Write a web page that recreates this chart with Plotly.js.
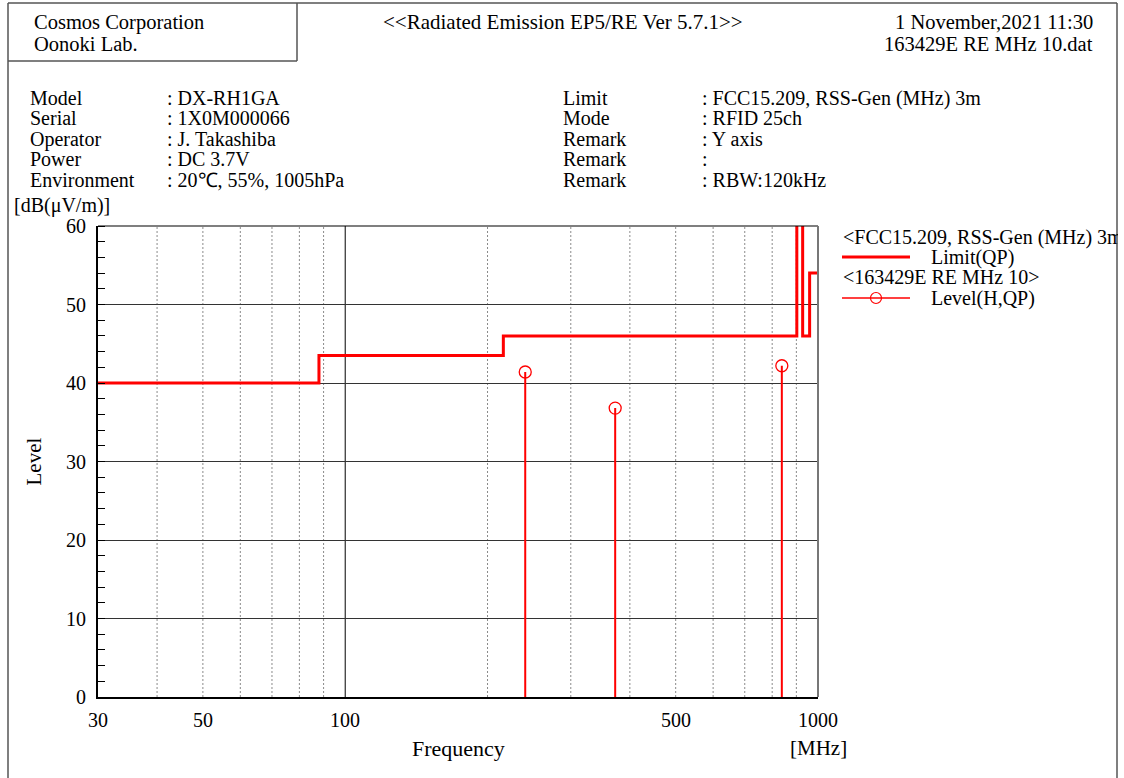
<!DOCTYPE html>
<html><head><meta charset="utf-8">
<script src="https://cdn.plot.ly/plotly-3.0.1.min.js"></script>
<style>
html,body{margin:0;padding:0;background:#fff;overflow:hidden}
</style>
</head><body><div id="chart" style="width:1118px;height:778px"></div>
<script>
// ---- data ----
const limitFreq = [30, 88, 216, 902, 928, 960, 1000];
const limitLevel = [40, 43.5, 46, 94, 46, 54, 54];
const peakFreq = [240.3, 372.4, 838.5];
const peakLevel = [41.4, 36.8, 42.2];
const xTickVals = [30, 50, 100, 500, 1000];
const xTickText = ['30', '50', '100', '500', '1000'];
const xMinorGrid = [40, 50, 60, 70, 80, 90, 200, 300, 400, 500, 600, 700, 800, 900];
const xMajorGrid = [100];
const yTickVals = [0, 10, 20, 30, 40, 50, 60];
const yTickText = ['0', '10', '20', '30', '40', '50', '60'];
const xTitle = 'Frequency';
const yTitle = 'Level';
const xUnit = '[MHz]';
const yUnit = '[dB(μV/m)]';
const infoLeftLabels = ['Model', 'Serial', 'Operator', 'Power', 'Environment'];
const infoLeftValues = [': DX-RH1GA', ': 1X0M000066', ': J. Takashiba', ': DC 3.7V', ': 20℃, 55%, 1005hPa'];
const infoRightLabels = ['Limit', 'Mode', 'Remark', 'Remark', 'Remark'];
const infoRightValues = [': FCC15.209, RSS-Gen (MHz) 3m', ': RFID 25ch', ': Y axis', ':', ': RBW:120kHz'];
const headerLeft = ['Cosmos Corporation', 'Oonoki Lab.'];
const headerCenter = '<<Radiated Emission EP5/RE Ver 5.7.1>>';
const headerRight = ['1 November,2021 11:30', '163429E RE MHz 10.dat'];
const legendLimitGroup = '<FCC15.209, RSS-Gen (MHz) 3m';
const legendLimitName = 'Limit(QP)';
const legendLevelGroup = '<163429E RE MHz 10>';
const legendLevelName = 'Level(H,QP)';

// ---- layout helpers ----
const FONT = 'Liberation Serif';
const W = 1118, H = 778, L = 98, R = 818, T = 226, B = 697;
const px = x => (x - L) / (R - L);
const py = y => (B - y) / (B - T);
const RED = '#ff0000';

function ann(text, x, y, xanchor, size) {
  return {text: text, xref: 'paper', yref: 'paper', x: px(x), y: py(y),
    xanchor: xanchor || 'left', yanchor: 'middle', showarrow: false, borderpad: 0,
    font: {family: FONT, size: size || 20, color: '#000'}};
}
function pline(x0, y0, x1, y1, color, width) {
  return {type: 'line', xref: 'paper', yref: 'paper', x0: px(x0), y0: py(y0), x1: px(x1), y1: py(y1),
    line: {color: color, width: width}, layer: 'above'};
}

const annotations = [];
headerLeft.forEach((t, i) => annotations.push(ann(t, 33, 22 + i * 21.5, 'left', 20.5)));
annotations.push(ann(headerCenter, 382, 22, 'left', 21));
headerRight.forEach((t, i) => annotations.push(ann(t, 1094, 22 + i * 21.5, 'right', 20.5)));
infoLeftLabels.forEach((t, i) => {
  annotations.push(ann(t, 29, 98 + i * 20.5));
  annotations.push(ann(infoLeftValues[i], 166, 98 + i * 20.5));
});
infoRightLabels.forEach((t, i) => {
  annotations.push(ann(t, 562, 98 + i * 20.5));
  annotations.push(ann(infoRightValues[i], 701, 98 + i * 20.5));
});
annotations.push(ann(yUnit, 13, 205, 'left', 20));
annotations.push(ann(xUnit, 818, 748, 'center', 21));
annotations.push(ann(xTitle, 458, 748, 'center', 22));
annotations.push(Object.assign(ann(yTitle, 33, 461.5, 'center', 21), {textangle: -90}));
// axis tick labels placed through the axes' own scales
xTickVals.forEach((v, i) => annotations.push({text: xTickText[i], xref: 'x', yref: 'paper',
  x: Math.log10(v), y: py(720), xanchor: 'center', yanchor: 'middle', showarrow: false, borderpad: 0,
  font: {family: FONT, size: 20, color: '#000'}}));
yTickVals.forEach((v, i) => annotations.push({text: yTickText[i], xref: 'paper', yref: 'y',
  x: px(87), y: v, xanchor: 'right', yanchor: 'middle', showarrow: false, borderpad: 0,
  font: {family: FONT, size: 20, color: '#000'}}));
annotations.push(ann(legendLimitGroup, 842, 237));
annotations.push(ann(legendLimitName, 930, 257));
annotations.push(ann(legendLevelGroup, 842, 277));
annotations.push(ann(legendLevelName, 930, 298));

const shapes = [];
xMinorGrid.forEach(v => shapes.push({type: 'line', xref: 'x', yref: 'paper', x0: v, x1: v, y0: 0, y1: 1,
  line: {color: '#8a8a8a', width: 1, dash: '2px,2px'}, layer: 'below'}));
xMajorGrid.forEach(v => shapes.push({type: 'line', xref: 'x', yref: 'paper', x0: v, x1: v, y0: 0, y1: 1,
  line: {color: '#000', width: 1}, layer: 'below'}));
shapes.push(pline(L, T, R, T, '#000', 1.2));
shapes.push(pline(R, T, R, B, '#777', 2));
shapes.push(pline(8, 3, 1117, 3, '#555', 1.5));
shapes.push(pline(8, 3, 8, 790, '#555', 1.5));
shapes.push(pline(1117, 3, 1117, 790, '#555', 1.5));
shapes.push(pline(297, 3, 297, 61, '#555', 1.5));
shapes.push(pline(8, 61, 297, 61, '#555', 1.5));
shapes.push(pline(842, 257, 910, 257, RED, 3));
shapes.push(pline(842, 298, 910, 298, RED, 1.5));
shapes.push({type: 'circle', xref: 'paper', yref: 'paper', x0: px(870.5), x1: px(881.5), y0: py(303.5), y1: py(292.5),
  line: {color: RED, width: 1.2}, fillcolor: 'rgba(0,0,0,0)', layer: 'above'});

const traces = [
  {x: limitFreq, y: limitLevel, type: 'scatter', mode: 'lines', line: {shape: 'hv', color: RED, width: 3},
    name: legendLimitName, showlegend: false},
  {x: peakFreq.flatMap(f => [f, f, null]), y: peakLevel.flatMap(v => [0, v, null]), type: 'scatter', mode: 'lines',
    line: {color: RED, width: 2}, name: legendLevelName, showlegend: false, connectgaps: false},
  {x: peakFreq, y: peakLevel, type: 'scatter', mode: 'markers',
    marker: {symbol: 'circle-open', size: 12, color: RED, line: {color: RED, width: 1.3}},
    name: legendLevelName, showlegend: false}
];

const layout = {
  width: W, height: H,
  margin: {l: L, r: W - R, t: T, b: H - B, pad: 0},
  paper_bgcolor: '#fff', plot_bgcolor: '#fff',
  font: {family: FONT, size: 20, color: '#000'},
  showlegend: false,
  xaxis: {
    type: 'log', range: [Math.log10(30), 3], tickmode: 'array', tickvals: xTickVals, ticktext: xTickText,
    showticklabels: false, showgrid: false, zeroline: false, showline: true, linecolor: '#000', linewidth: 2,
    ticks: '', automargin: false
  },
  yaxis: {
    range: [0, 60], tickmode: 'array', tickvals: yTickVals, ticktext: yTickText, showticklabels: false,
    showgrid: true, gridcolor: '#333', gridwidth: 1,
    zeroline: false, showline: true, linecolor: '#000', linewidth: 2, ticks: '', automargin: false,
    minor: {tick0: 0, dtick: 2, ticks: 'inside', ticklen: 7, tickcolor: '#000', tickwidth: 1, showgrid: false}
  },
  annotations: annotations,
  shapes: shapes
};

Plotly.newPlot('chart', traces, layout, {displayModeBar: false, staticPlot: true});
</script>
</body></html>
